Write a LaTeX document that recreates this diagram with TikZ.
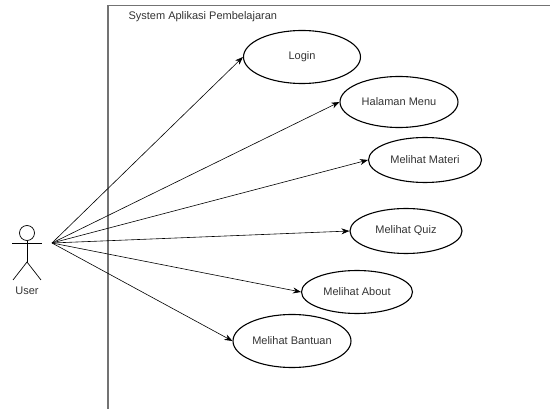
\documentclass[tikz,border=0pt]{standalone}
\usepackage{fontspec}
\setmainfont{Liberation Sans}
\usetikzlibrary{arrows.meta}
\usetikzlibrary{shapes.geometric}
\usetikzlibrary{calc,positioning}

\begin{document}
\begin{tikzpicture}[x=1pt, y=-1pt, >=Stealth,
    usecase/.style={draw, line width=1.1pt, ellipse, inner sep=0pt, text=black!80, font=\fontsize{11}{13}\selectfont},
    link/.style={-{Stealth[length=8pt, width=6pt]}, line width=0.6pt},
    boundary/.style={draw=black!55, line width=1.2pt}]

    \useasboundingbox (0,0) rectangle (550,409);

    % system boundary (runs off the page)
    \draw[boundary] (108,412) -- (108,5.5) -- (553,5.5);
    \node[anchor=west, text=black!80, font=\fontsize{11}{13}\selectfont] (sys) at (125,17) {System Aplikasi Pembelajaran};

    % actor
    \node[draw, circle, line width=0.7pt, minimum size=15pt, inner sep=0pt] (head) at (27,233) {};
    \draw[line width=0.7pt] (head.south) -- (27,262) coordinate (hip);
    \draw[line width=0.7pt] (12,243) -- (42,243);
    \draw[line width=0.7pt] (13,280) -- (hip) -- (41,280);
    \node[text=black!80, font=\fontsize{11}{13}\selectfont] (user) at (27,291) {User};
    \coordinate (hand) at (52,243);

    % use cases
    \node[usecase, minimum width=117pt, minimum height=53pt] (login) at (302,57) {Login};
    \node[usecase, minimum width=118pt, minimum height=51pt] (menu) at (399,102) {Halaman Menu};
    \node[usecase, minimum width=113pt, minimum height=45pt] (materi) at (425,160) {Melihat Materi};
    \node[usecase, minimum width=112pt, minimum height=45pt] (quiz) at (406,231) {Melihat Quiz};
    \node[usecase, minimum width=111pt, minimum height=43pt] (about) at (357,292) {Melihat About};
    \node[usecase, minimum width=118pt, minimum height=53pt] (bantuan) at (292,341) {Melihat Bantuan};

    \foreach \uc in {login, menu, materi, quiz, about, bantuan}
        \draw[link] (hand) -- (\uc.west);

\end{tikzpicture}
\end{document}
